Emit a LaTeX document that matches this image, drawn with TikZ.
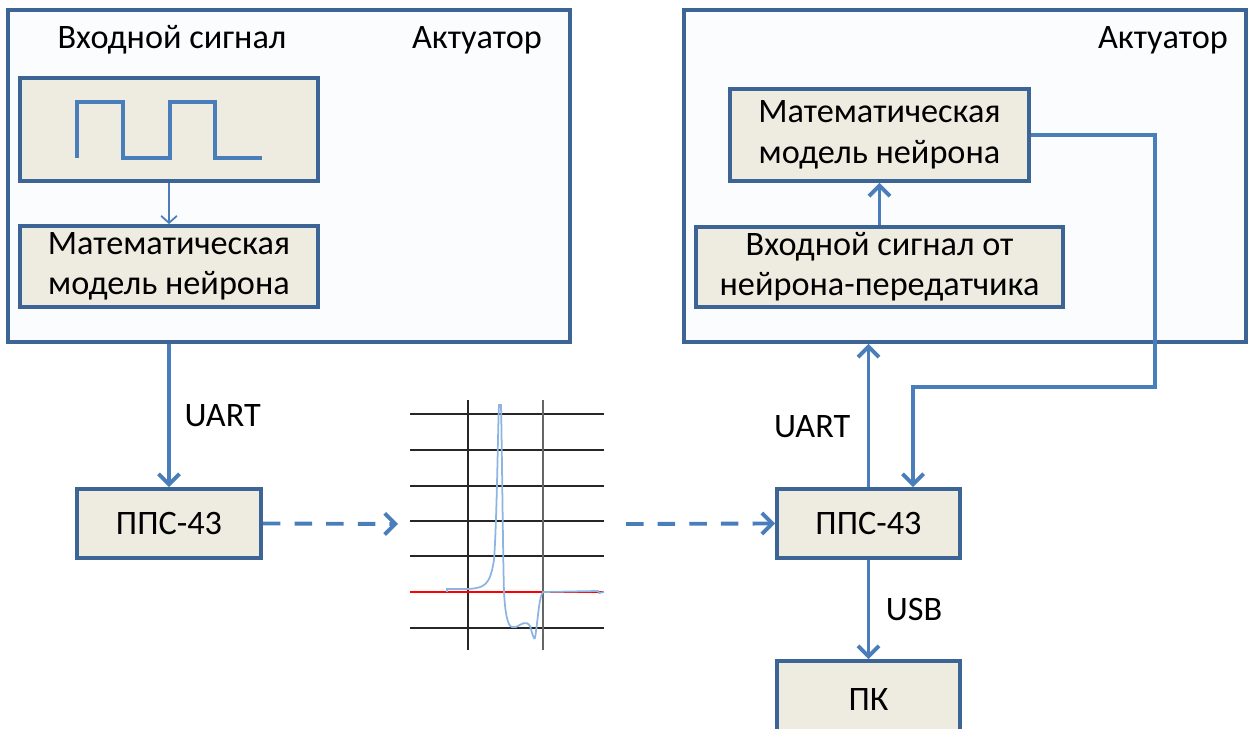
\documentclass[tikz,border=0pt]{standalone}
\usepackage{fontspec}
\setmainfont{Carlito}
\usetikzlibrary{positioning,arrows.meta}
\definecolor{boxline}{HTML}{3C6494}
\definecolor{boxfill}{HTML}{EEECE1}
\definecolor{linkblue}{HTML}{4A7EBB}
\definecolor{framefill}{HTML}{FBFCFE}
\definecolor{spikeblue}{HTML}{8DB4E2}
\tikzset{
  frame/.style={draw=boxline,line width=2.2pt,fill=framefill,inner sep=0pt},
  block/.style={draw=boxline,line width=2.2pt,fill=boxfill,align=center,inner sep=0pt,
    font=\fontsize{19.5}{23}\selectfont},
  link/.style={draw=linkblue,line width=2.2pt,-{Straight Barb[length=6pt,width=12pt]}},
  lbl/.style={font=\fontsize{19.5}{23}\selectfont},
  grid line/.style={draw=black!85,line width=0.7pt},
}

\begin{document}
\begin{tikzpicture}[x=0.02cm,y=-0.02cm]
		\useasboundingbox (0,0) rectangle (1252,729);
		% left actuator
		\node[frame,minimum width=11.24cm,minimum height=6.64cm] (frameL) at (289,176) {};
		\node[lbl] (inLbl) at (172,40) {Входной сигнал};
		\node[lbl] (actL) at (477,40) {Актуатор};
		\node[block,minimum width=5.96cm,minimum height=2.06cm] (wavebox) at (169,129.5) {};
		\draw[linkblue,line width=2pt] (77,158) |- (123,102) |- (170,158) |- (215,102) |- (262,158);
		\node[block,minimum width=5.96cm,minimum height=1.62cm] (modelA) at (169,266.5)
			{Математическая\\модель нейрона};
		\draw[link,line width=1pt,-{Straight Barb[length=4pt,width=9pt]}] (wavebox) -- (modelA);
		% right actuator
		\node[frame,minimum width=11.24cm,minimum height=6.64cm] (frameR) at (965,176) {};
		\node[lbl] (actR) at (1163,40) {Актуатор};
		\node[block,minimum width=5.98cm,minimum height=1.84cm] (modelB) at (879.5,135)
			{Математическая\\модель нейрона};
		\node[block,minimum width=7.34cm,minimum height=1.6cm] (inputB) at (879.5,267)
			{Входной сигнал от\\нейрона-передатчика};
		\draw[link] (inputB) -- (modelB);
		% converters
		\node[block,minimum width=3.68cm,minimum height=1.38cm] (ppsA) at (169,523.5) {ППС-43};
		\node[block,minimum width=3.66cm,minimum height=1.38cm] (ppsB) at (868.5,523.5) {ППС-43};
		\node[block,minimum width=3.66cm,minimum height=1.56cm] (pc) at (868.5,700) {ПК};
		\draw[link] (frameL.south -| ppsA) -- node[lbl,right=4.5pt] {UART} (ppsA);
		\draw[link] (ppsB) -- node[lbl,left=6pt,pos=0.42] {UART} (ppsB |- frameR.south);
		\draw[link] (ppsB) -- node[lbl,right=5.5pt,pos=0.5] {USB} (pc);
		\coordinate (turn) at (1155,387);
		\coordinate (dropX) at (913,387);
		\draw[link] (modelB.east) -| (turn) -- (dropX) -- (dropX |- ppsB.north);
		% spike chart
		\coordinate (chartL) at (398,524);
		\coordinate (chartR) at (626,524);
		\draw[link,dash pattern=on 10pt off 8pt] (ppsA.east) -- (chartL);
		\draw[link,dash pattern=on 10pt off 8pt] (chartR) -- (ppsB.west);
		\foreach \y in {414,450,486,521,556,628}
			\draw[grid line] (410,\y) -- (604,\y);
		\draw[grid line] (468,400) -- (468,650);
		\draw[draw=black!60,line width=1.3pt] (543,400) -- (543,650);
		\draw[red,line width=0.8pt] (410,592) -- (604,592);
		\draw[spikeblue,line width=1pt] (447,592) -- (447,589) -- (468,589)
			.. controls (485,588) and (490,585) .. (494,560)
			.. controls (497,520) and (498,420) .. (499,405) -- (501,405)
			.. controls (502,450) and (503,560) .. (504,592)
			.. controls (505,610) and (507,626) .. (512,627) -- (516,627)
			.. controls (522,624) and (526,620) .. (530,626)
			.. controls (533,636) and (534,640) .. (535,638)
			.. controls (538,620) and (539,596) .. (543,592)
			-- (598,591) -- (599,593) -- (604,592);
	\end{tikzpicture}
\end{document}
